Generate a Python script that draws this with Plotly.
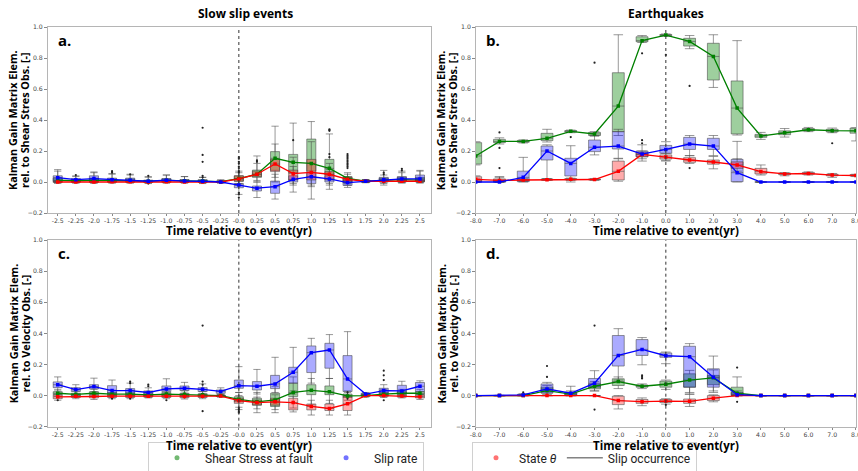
import plotly.graph_objects as go

W, H = 858, 471

# ---------------- categories / tick labels ----------------
SSE_T = [-2.5, -2.25, -2.0, -1.75, -1.5, -1.25, -1.0, -0.75, -0.5, -0.25, 0.0,
         0.25, 0.5, 0.75, 1.0, 1.25, 1.5, 1.75, 2.0, 2.25, 2.5]
SSE_TICKS = ["-2.5", "-2.25", "-2.0", "-1.75", "-1.5", "-1.25", "-1.0", "-0.75", "-0.5", "-0.25", "-0.0",
             "0.25", "0.5", "0.75", "1.0", "1.25", "1.5", "1.75", "2.0", "2.25", "2.5"]
EQ_T = [-8.0, -7.0, -6.0, -5.0, -4.0, -3.0, -2.0, -1.0, 0.0, 1.0, 2.0, 3.0, 4.0, 5.0, 6.0, 7.0, 8.0]
EQ_TICKS = ["-8.0", "-7.0", "-6.0", "-5.0", "-4.0", "-3.0", "-2.0", "-1.0", "0.0",
            "1.0", "2.0", "3.0", "4.0", "5.0", "6.0", "7.0", "8.0"]
Y_TICKS = [-0.2, 0.0, 0.2, 0.4, 0.6, 0.8, 1.0]
Y_TICKTEXT = ["\u22120.2", "0.0", "0.2", "0.4", "0.6", "0.8", "1.0"]

# ---------------- (a) slow slip events, gain w.r.t. shear-stress obs ----------------
A_SH_MED = [0.012, 0.008, 0.012, 0.010, 0.010, 0.005, 0.010, 0.008, 0.006, 0.002, 0.022, 0.050, 0.153, 0.127, 0.120, 0.088, 0.024, 0.005, 0.010, 0.015, 0.012]
A_SH_Q1 = [0.003, 0.002, 0.004, 0.003, 0.003, 0.000, 0.003, 0.002, 0.000, -0.002, 0.005, 0.030, 0.075, 0.060, 0.070, 0.045, -0.005, 0.000, 0.003, 0.005, 0.003]
A_SH_Q3 = [0.025, 0.015, 0.025, 0.020, 0.020, 0.012, 0.020, 0.015, 0.015, 0.006, 0.040, 0.077, 0.196, 0.178, 0.277, 0.146, 0.035, 0.010, 0.025, 0.030, 0.030]
A_SH_LO = [-0.005, -0.005, -0.005, -0.005, -0.005, -0.010, -0.005, -0.005, -0.010, -0.005, -0.020, 0.000, 0.000, -0.065, -0.110, -0.047, -0.020, -0.005, -0.010, -0.005, -0.005]
A_SH_HI = [0.070, 0.035, 0.060, 0.055, 0.050, 0.035, 0.045, 0.035, 0.030, 0.015, 0.060, 0.168, 0.360, 0.380, 0.390, 0.310, 0.060, 0.015, 0.045, 0.060, 0.070]

A_SR_MED = [0.028, 0.015, 0.022, 0.015, 0.012, 0.005, 0.012, 0.006, 0.005, 0.000, -0.020, -0.040, -0.030, 0.017, 0.034, 0.020, -0.004, 0.005, 0.015, 0.020, 0.020]
A_SR_Q1 = [0.005, 0.003, 0.005, 0.003, 0.002, 0.000, 0.003, 0.000, 0.000, -0.003, -0.037, -0.058, -0.073, 0.000, -0.010, 0.000, -0.022, 0.000, 0.003, 0.005, 0.005]
A_SR_Q3 = [0.040, 0.022, 0.040, 0.025, 0.025, 0.010, 0.022, 0.015, 0.012, 0.004, -0.009, -0.026, 0.006, 0.040, 0.060, 0.040, 0.010, 0.010, 0.030, 0.035, 0.045]
A_SR_LO = [-0.005, -0.005, -0.005, -0.005, -0.005, -0.005, -0.005, -0.005, -0.005, -0.008, -0.080, -0.100, -0.110, -0.020, -0.030, -0.020, -0.035, -0.003, -0.020, -0.005, -0.005]
A_SR_HI = [0.080, 0.040, 0.065, 0.050, 0.045, 0.030, 0.045, 0.035, 0.030, 0.010, 0.020, 0.000, 0.050, 0.100, 0.120, 0.080, 0.030, 0.015, 0.075, 0.070, 0.075]

A_TH_MED = [0.000, 0.000, 0.000, 0.001, 0.001, 0.000, 0.001, 0.000, 0.000, 0.000, 0.020, 0.050, 0.116, 0.054, 0.062, 0.050, 0.017, 0.005, 0.005, 0.005, 0.005]
A_TH_Q1 = [-0.003, -0.002, -0.003, -0.002, -0.002, -0.002, -0.002, -0.002, -0.002, -0.002, 0.005, 0.035, 0.067, 0.013, 0.013, 0.013, 0.005, 0.000, 0.000, 0.000, 0.000]
A_TH_Q3 = [0.004, 0.003, 0.004, 0.004, 0.004, 0.003, 0.004, 0.003, 0.003, 0.002, 0.040, 0.070, 0.146, 0.077, 0.146, 0.067, 0.030, 0.010, 0.012, 0.012, 0.012]
A_TH_LO = [-0.008, -0.006, -0.008, -0.006, -0.006, -0.006, -0.006, -0.006, -0.006, -0.004, -0.010, 0.010, 0.030, -0.010, -0.020, -0.010, -0.010, -0.003, -0.005, -0.005, -0.005]
A_TH_HI = [0.010, 0.008, 0.010, 0.010, 0.010, 0.008, 0.010, 0.008, 0.008, 0.005, 0.070, 0.120, 0.245, 0.160, 0.260, 0.120, 0.050, 0.015, 0.020, 0.020, 0.020]

A_OUT_X = [-2.25, -1.75, -1.75, -1.5, -1.25, -1.25, -0.5, -0.5, -0.5, -0.5, -0.5,
           0.0, 0.0, 0.0, 0.0, 0.0, 0.0, 0.0, 0.0, 0.0, 0.0, 0.0, 0.25, 0.25, 0.75,
           1.25, 1.25, 1.25, 1.25, 1.25, 1.5, 1.5, 1.5, 1.5, 1.5, 1.5, 1.5, 1.5, 1.5, 1.5,
           2.0, 2.0, 2.25, 2.25]
A_OUT_Y = [0.045, 0.070, 0.060, 0.050, 0.040, -0.010, 0.350, 0.175, 0.130, 0.040, 0.030,
           0.160, 0.150, 0.130, 0.120, 0.100, 0.090, 0.070, 0.060, -0.070, -0.080, -0.100, 0.140, 0.130, 0.270,
           0.340, 0.335, 0.330, 0.180, 0.160, 0.180, 0.170, 0.160, 0.150, 0.140, 0.130, 0.120, 0.110, 0.100, 0.090,
           0.060, 0.050, 0.085, 0.075]

# ---------------- (b) earthquakes, gain w.r.t. shear-stress obs ----------------
B_SH_MED = [0.168, 0.262, 0.262, 0.282, 0.327, 0.310, 0.490, 0.912, 0.948, 0.907, 0.810, 0.477, 0.297, 0.318, 0.337, 0.331, 0.330]
B_SH_Q1 = [0.116, 0.254, 0.256, 0.267, 0.322, 0.300, 0.325, 0.905, 0.944, 0.877, 0.658, 0.310, 0.288, 0.305, 0.330, 0.323, 0.315]
B_SH_Q3 = [0.254, 0.275, 0.268, 0.314, 0.332, 0.320, 0.705, 0.937, 0.952, 0.927, 0.895, 0.652, 0.307, 0.330, 0.345, 0.340, 0.348]
B_SH_LO = [0.110, 0.245, 0.252, 0.258, 0.318, 0.295, 0.300, 0.900, 0.940, 0.860, 0.610, 0.303, 0.275, 0.290, 0.325, 0.318, 0.265]
B_SH_HI = [0.260, 0.285, 0.272, 0.340, 0.335, 0.325, 0.950, 0.945, 0.955, 0.945, 0.950, 0.912, 0.320, 0.345, 0.352, 0.348, 0.350]

B_SR_MED = [0.000, 0.000, 0.030, 0.200, 0.120, 0.224, 0.232, 0.180, 0.210, 0.245, 0.232, 0.060, 0.000, 0.000, 0.000, 0.000, 0.000]
B_SR_Q1 = [-0.002, -0.002, 0.002, 0.142, 0.039, 0.196, 0.213, 0.163, 0.185, 0.210, 0.210, 0.002, -0.002, -0.002, -0.002, -0.002, -0.002]
B_SR_Q3 = [0.010, 0.012, 0.070, 0.232, 0.153, 0.271, 0.325, 0.200, 0.236, 0.288, 0.282, 0.146, 0.002, 0.002, 0.002, 0.002, 0.002]
B_SR_LO = [-0.003, -0.003, 0.000, 0.020, 0.000, 0.175, 0.153, 0.135, 0.140, 0.170, 0.170, 0.000, -0.003, -0.003, -0.003, -0.003, -0.003]
B_SR_HI = [0.020, 0.030, 0.159, 0.240, 0.234, 0.300, 0.340, 0.240, 0.260, 0.300, 0.300, 0.262, 0.003, 0.003, 0.003, 0.003, 0.003]

B_TH_MED = [0.017, 0.010, 0.013, 0.015, 0.018, 0.016, 0.069, 0.178, 0.161, 0.142, 0.129, 0.110, 0.067, 0.052, 0.055, 0.045, 0.042]
B_TH_Q1 = [0.003, 0.004, 0.008, 0.012, 0.014, 0.013, 0.013, 0.163, 0.148, 0.127, 0.115, 0.088, 0.052, 0.047, 0.050, 0.040, 0.038]
B_TH_Q3 = [0.034, 0.020, 0.018, 0.020, 0.022, 0.020, 0.135, 0.190, 0.175, 0.157, 0.142, 0.130, 0.088, 0.058, 0.062, 0.050, 0.048]
B_TH_LO = [0.000, 0.000, 0.005, 0.010, 0.010, 0.010, 0.005, 0.150, 0.135, 0.120, 0.085, 0.070, 0.045, 0.040, 0.045, 0.030, 0.035]
B_TH_HI = [0.040, 0.035, 0.020, 0.022, 0.025, 0.022, 0.150, 0.200, 0.185, 0.170, 0.165, 0.150, 0.110, 0.060, 0.065, 0.055, 0.050]

B_OUT_X = [-7.0, -7.0, -7.0, -4.0, -3.0, -1.0, -1.0, -1.0, 0.0, 1.0, 1.0, 7.0]
B_OUT_Y = [0.320, 0.220, 0.090, 0.290, 0.770, 0.830, 0.270, 0.250, 0.820, 0.620, 0.090, 0.250]

# ---------------- (c) slow slip events, gain w.r.t. velocity obs ----------------
C_SH_MED = [0.015, 0.008, 0.015, 0.010, 0.010, 0.005, 0.010, 0.008, 0.005, 0.000, -0.024, -0.040, -0.028, 0.020, 0.034, 0.024, -0.002, 0.000, 0.010, 0.015, 0.015]
C_SH_Q1 = [0.005, 0.000, 0.005, 0.002, 0.002, -0.002, 0.002, 0.000, -0.002, -0.004, -0.040, -0.062, -0.070, -0.006, 0.006, 0.006, -0.012, -0.004, 0.002, 0.005, 0.005]
C_SH_Q3 = [0.025, 0.015, 0.025, 0.020, 0.018, 0.012, 0.020, 0.015, 0.012, 0.004, -0.007, -0.017, 0.015, 0.080, 0.070, 0.062, 0.010, 0.005, 0.020, 0.025, 0.025]
C_SH_LO = [-0.005, -0.010, -0.005, -0.010, -0.010, -0.010, -0.010, -0.010, -0.010, -0.008, -0.090, -0.110, -0.110, -0.080, -0.060, -0.050, -0.030, -0.008, -0.010, -0.005, -0.005]
C_SH_HI = [0.040, 0.030, 0.040, 0.035, 0.035, 0.025, 0.035, 0.030, 0.025, 0.010, 0.020, 0.020, 0.060, 0.120, 0.110, 0.110, 0.030, 0.010, 0.040, 0.040, 0.040]

C_SR_MED = [0.070, 0.039, 0.058, 0.032, 0.032, 0.020, 0.043, 0.047, 0.040, 0.027, 0.064, 0.060, 0.075, 0.150, 0.276, 0.293, 0.107, 0.010, 0.032, 0.030, 0.060]
C_SR_Q1 = [0.051, 0.026, 0.043, 0.015, 0.015, 0.010, 0.026, 0.032, 0.026, 0.015, 0.047, 0.036, 0.045, 0.080, 0.148, 0.176, 0.026, 0.003, 0.015, 0.015, 0.026]
C_SR_Q3 = [0.088, 0.051, 0.070, 0.064, 0.045, 0.030, 0.062, 0.062, 0.051, 0.036, 0.100, 0.090, 0.130, 0.182, 0.319, 0.336, 0.257, 0.015, 0.047, 0.066, 0.084]
C_SR_LO = [0.030, 0.010, 0.025, 0.000, 0.000, 0.000, 0.010, 0.015, 0.010, 0.005, 0.020, 0.010, 0.020, 0.030, 0.080, 0.110, 0.000, 0.000, 0.000, 0.000, 0.010]
C_SR_HI = [0.120, 0.070, 0.112, 0.100, 0.080, 0.050, 0.108, 0.085, 0.075, 0.050, 0.186, 0.168, 0.246, 0.310, 0.368, 0.392, 0.411, 0.020, 0.070, 0.092, 0.095]

C_TH_MED = [-0.008, -0.005, -0.006, -0.004, -0.004, -0.004, -0.004, -0.006, -0.005, -0.003, -0.032, -0.045, -0.040, -0.045, -0.070, -0.083, -0.053, 0.000, 0.000, -0.003, -0.008]
C_TH_Q1 = [-0.020, -0.012, -0.015, -0.012, -0.012, -0.010, -0.012, -0.014, -0.012, -0.006, -0.050, -0.060, -0.062, -0.092, -0.092, -0.096, -0.096, -0.003, -0.005, -0.010, -0.015]
C_TH_Q3 = [0.004, 0.002, 0.003, 0.003, 0.003, 0.002, 0.003, 0.002, 0.002, 0.000, -0.017, -0.028, -0.017, -0.017, -0.054, -0.054, -0.006, 0.003, 0.004, 0.004, 0.003]
C_TH_LO = [-0.030, -0.020, -0.025, -0.020, -0.020, -0.015, -0.020, -0.022, -0.020, -0.010, -0.075, -0.085, -0.090, -0.105, -0.125, -0.125, -0.125, -0.008, -0.010, -0.015, -0.025]
C_TH_HI = [0.010, 0.008, 0.010, 0.008, 0.008, 0.006, 0.008, 0.008, 0.008, 0.004, 0.000, -0.010, 0.005, 0.010, -0.030, -0.030, 0.020, 0.005, 0.008, 0.008, 0.008]

C_OUT_X = [-2.5, -1.75, -1.5, -1.5, -1.5, -1.25, -1.25, -1.0, -0.5, -0.5, -0.5, -0.5,
           0.0, 0.0, 0.0, 0.0, 1.5, 1.5, 1.5, 2.0, 2.0, 2.0, 2.0]
C_OUT_Y = [-0.030, -0.020, 0.090, 0.080, -0.020, 0.070, 0.060, -0.030, 0.450, 0.090, 0.070, -0.100,
           -0.080, -0.090, -0.100, -0.110, 0.020, 0.000, -0.020, 0.160, 0.130, 0.100, -0.030]

# ---------------- (d) earthquakes, gain w.r.t. velocity obs ----------------
D_SH_MED = [0.000, 0.000, 0.000, 0.032, 0.010, 0.060, 0.090, 0.060, 0.073, 0.100, 0.114, 0.015, 0.000, 0.000, 0.000, 0.000, 0.000]
D_SH_Q1 = [0.000, 0.000, 0.000, 0.022, 0.003, 0.043, 0.065, 0.054, 0.054, 0.054, 0.070, 0.006, 0.000, 0.000, 0.000, 0.000, 0.000]
D_SH_Q3 = [0.000, 0.000, 0.002, 0.054, 0.020, 0.075, 0.108, 0.068, 0.093, 0.140, 0.130, 0.054, 0.000, 0.000, 0.000, 0.000, 0.000]
D_SH_LO = [0.000, 0.000, 0.000, 0.010, 0.000, 0.030, 0.045, 0.045, 0.040, 0.010, 0.030, 0.000, 0.000, 0.000, 0.000, 0.000, 0.000]
D_SH_HI = [0.000, 0.000, 0.005, 0.065, 0.030, 0.090, 0.120, 0.075, 0.100, 0.162, 0.165, 0.120, 0.000, 0.000, 0.000, 0.000, 0.000]

D_SR_MED = [0.000, 0.000, 0.004, 0.043, 0.015, 0.080, 0.258, 0.297, 0.256, 0.250, 0.118, 0.006, 0.000, 0.000, 0.000, 0.000, 0.000]
D_SR_Q1 = [0.000, 0.000, 0.000, 0.015, 0.005, 0.054, 0.190, 0.258, 0.246, 0.054, 0.054, 0.000, 0.000, 0.000, 0.000, 0.000, 0.000]
D_SR_Q3 = [0.000, 0.001, 0.008, 0.075, 0.022, 0.110, 0.386, 0.360, 0.274, 0.317, 0.172, 0.020, 0.000, 0.000, 0.000, 0.000, 0.000]
D_SR_LO = [0.000, 0.000, 0.000, 0.005, 0.000, 0.030, 0.100, 0.198, 0.205, 0.020, 0.020, 0.000, 0.000, 0.000, 0.000, 0.000, 0.000]
D_SR_HI = [0.000, 0.002, 0.012, 0.085, 0.060, 0.160, 0.430, 0.373, 0.280, 0.334, 0.254, 0.030, 0.000, 0.000, 0.000, 0.000, 0.000]

D_TH_MED = [0.000, 0.000, 0.000, 0.000, 0.000, 0.000, -0.032, -0.039, -0.035, -0.037, -0.017, 0.000, 0.000, 0.000, 0.000, 0.000, 0.000]
D_TH_Q1 = [0.000, 0.000, 0.000, 0.000, 0.000, 0.000, -0.058, -0.050, -0.045, -0.050, -0.032, 0.000, 0.000, 0.000, 0.000, 0.000, 0.000]
D_TH_Q3 = [0.000, 0.000, 0.000, 0.000, 0.000, 0.000, -0.004, -0.025, -0.025, -0.022, 0.000, 0.000, 0.000, 0.000, 0.000, 0.000, 0.000]
D_TH_LO = [0.000, 0.000, 0.000, 0.000, 0.000, 0.000, -0.086, -0.065, -0.055, -0.070, -0.040, 0.000, 0.000, 0.000, 0.000, 0.000, 0.000]
D_TH_HI = [0.000, 0.000, 0.000, 0.000, 0.000, 0.000, 0.000, -0.015, -0.020, 0.008, 0.005, 0.000, 0.000, 0.000, 0.000, 0.000, 0.000]

D_OUT_X = [-6.0, -5.0, -5.0, -3.0, -3.0, -1.0, -1.0, -1.0, 0.0, 0.0, 3.0, 3.0]
D_OUT_Y = [0.020, 0.190, 0.120, 0.450, -0.090, 0.130, 0.120, 0.110, 0.430, -0.060, 0.180, -0.040]

# ---------------- styling ----------------
SERIES_STYLE = {
    "shear": dict(fill="rgba(0,128,0,0.38)", line="#008000"),
    "slip": dict(fill="rgba(0,0,255,0.33)", line="#0000ff"),
    "state": dict(fill="rgba(255,0,0,0.33)", line="#ff0000"),
}
TEXT_FONT = "Open Sans, Lato, DejaVu Sans, sans-serif"
TICK_FONT = dict(family="DejaVu Sans, sans-serif", size=6.2, color="#444")
LEGEND_FONT = dict(family="Roboto, DejaVu Sans, sans-serif", size=12, color="#222")


def fx(px):
    return px / W


def fy(px):
    return 1 - px / H


# panel frames in pixels: (left, right, top, bottom)
COLS = [(47.5, 430.7), (475.7, 856.0)]
ROWS = [(27.0, 213.0), (240.0, 426.7)]
XTITLE_GAP = [17.0, 18.5]

fig = go.Figure()


def add_panel(idx, t, box_w, stats, out_x, out_y):
    xa = "x" if idx == 1 else f"x{idx}"
    ya = "y" if idx == 1 else f"y{idx}"
    # boxes
    for key in ("shear", "slip", "state"):
        q1, med, q3, lo, hi = stats[key]
        fig.add_trace(go.Box(
            x=t, q1=q1, median=med, q3=q3, lowerfence=lo, upperfence=hi,
            width=box_w, whiskerwidth=0.8, boxpoints=False,
            fillcolor=SERIES_STYLE[key]["fill"],
            line=dict(color="rgba(70,70,70,0.55)", width=1),
            xaxis=xa, yaxis=ya, showlegend=False, hoverinfo="skip",
        ))
    # outliers
    fig.add_trace(go.Scatter(
        x=out_x, y=out_y, mode="markers",
        marker=dict(size=2.2, color="#222"),
        xaxis=xa, yaxis=ya, showlegend=False, hoverinfo="skip",
    ))
    # median trajectories
    for key in ("shear", "state", "slip"):
        med = stats[key][1]
        fig.add_trace(go.Scatter(
            x=t, y=med, mode="lines+markers",
            line=dict(color=SERIES_STYLE[key]["line"], width=1.3),
            marker=dict(symbol="square", size=3.5, color=SERIES_STYLE[key]["line"]),
            xaxis=xa, yaxis=ya, showlegend=False, hoverinfo="skip",
        ))


add_panel(1, SSE_T, 0.125, {
    "shear": (A_SH_Q1, A_SH_MED, A_SH_Q3, A_SH_LO, A_SH_HI),
    "slip": (A_SR_Q1, A_SR_MED, A_SR_Q3, A_SR_LO, A_SR_HI),
    "state": (A_TH_Q1, A_TH_MED, A_TH_Q3, A_TH_LO, A_TH_HI),
}, A_OUT_X, A_OUT_Y)
add_panel(2, EQ_T, 0.5, {
    "shear": (B_SH_Q1, B_SH_MED, B_SH_Q3, B_SH_LO, B_SH_HI),
    "slip": (B_SR_Q1, B_SR_MED, B_SR_Q3, B_SR_LO, B_SR_HI),
    "state": (B_TH_Q1, B_TH_MED, B_TH_Q3, B_TH_LO, B_TH_HI),
}, B_OUT_X, B_OUT_Y)
add_panel(3, SSE_T, 0.125, {
    "shear": (C_SH_Q1, C_SH_MED, C_SH_Q3, C_SH_LO, C_SH_HI),
    "slip": (C_SR_Q1, C_SR_MED, C_SR_Q3, C_SR_LO, C_SR_HI),
    "state": (C_TH_Q1, C_TH_MED, C_TH_Q3, C_TH_LO, C_TH_HI),
}, C_OUT_X, C_OUT_Y)
add_panel(4, EQ_T, 0.5, {
    "shear": (D_SH_Q1, D_SH_MED, D_SH_Q3, D_SH_LO, D_SH_HI),
    "slip": (D_SR_Q1, D_SR_MED, D_SR_Q3, D_SR_LO, D_SR_HI),
    "state": (D_TH_Q1, D_TH_MED, D_TH_Q3, D_TH_LO, D_TH_HI),
}, D_OUT_X, D_OUT_Y)

# legend entries
fig.add_trace(go.Scatter(x=[None], y=[None], mode="markers", name="Shear Stress at fault",
                         marker=dict(size=5, color="rgba(0,128,0,0.55)"), legend="legend"))
fig.add_trace(go.Scatter(x=[None], y=[None], mode="markers", name="Slip rate",
                         marker=dict(size=5, color="rgba(0,0,255,0.55)"), legend="legend"))
fig.add_trace(go.Scatter(x=[None], y=[None], mode="markers", name="State <i>θ</i>",
                         marker=dict(size=5, color="rgba(255,0,0,0.55)"), legend="legend2"))
fig.add_trace(go.Scatter(x=[None], y=[None], mode="lines", name="Slip occurrence",
                         line=dict(color="#444", width=1), legend="legend2"))

layout = dict(
    width=W, height=H,
    margin=dict(l=0, r=0, t=0, b=0, autoexpand=False),
    paper_bgcolor="white", plot_bgcolor="white",
    boxmode="overlay",
    font=dict(family=TEXT_FONT, color="#000"),
    legend=dict(x=fx(148), y=-0.005, xanchor="left", yanchor="bottom", orientation="h",
                bgcolor="white", bordercolor="#d0d0d0", borderwidth=1, font=LEGEND_FONT,
                itemwidth=46, tracegroupgap=0),
    legend2=dict(x=fx(472), y=-0.005, xanchor="left", yanchor="bottom", orientation="h",
                 bgcolor="white", bordercolor="#d0d0d0", borderwidth=1, font=LEGEND_FONT,
                 itemwidth=36, tracegroupgap=0),
)

shapes = []
annotations = []
for idx in range(1, 5):
    col = (idx - 1) % 2
    row = (idx - 1) // 2
    (xl, xr), (yt, yb) = COLS[col], ROWS[row]
    xa_key = "xaxis" if idx == 1 else f"xaxis{idx}"
    ya_key = "yaxis" if idx == 1 else f"yaxis{idx}"
    anchor_y = "y" if idx == 1 else f"y{idx}"
    anchor_x = "x" if idx == 1 else f"x{idx}"
    if col == 0:
        tv, tt, rng = SSE_T, SSE_TICKS, [-2.641, 2.648]
    else:
        tv, tt, rng = EQ_T, EQ_TICKS, [-8.0, 8.002]
    layout[xa_key] = dict(
        domain=[fx(xl), fx(xr)], anchor=anchor_y, range=rng,
        tickmode="array", tickvals=tv, ticktext=tt, tickfont=TICK_FONT,
        ticks="outside", ticklen=2, tickcolor="#888", ticklabeloverflow="allow",
        showline=True, mirror=True, linecolor="#b5b5b5", linewidth=1,
        showgrid=False, zeroline=False,
    )
    layout[ya_key] = dict(
        domain=[fy(yb), fy(yt)], anchor=anchor_x, range=[-0.2, 1.0],
        tickmode="array", tickvals=Y_TICKS, ticktext=Y_TICKTEXT, tickfont=TICK_FONT,
        ticks="outside", ticklen=2.5, tickcolor="#888",
        showline=True, mirror=True, linecolor="#b5b5b5", linewidth=1,
        showgrid=False, zeroline=False,
    )
    # event time marker
    shapes.append(dict(type="line", xref=anchor_x, yref=f"{anchor_y} domain",
                       x0=0, x1=0, y0=0, y1=1, line=dict(color="#333", width=1, dash="dot")))
    # panel letter
    annotations.append(dict(text="<b>" + "abcd"[idx - 1] + ".</b>", xref="paper", yref="paper",
                            x=fx(xl + 8), y=fy(yt + 13), xanchor="left", yanchor="middle",
                            showarrow=False, font=dict(size=15, family=TEXT_FONT)))
    # x-axis title
    annotations.append(dict(text="<b>Time relative to event(yr)</b>", xref="paper", yref="paper",
                            x=fx((xl + xr) / 2), y=fy(yb + XTITLE_GAP[row]),
                            xanchor="center", yanchor="middle",
                            showarrow=False, font=dict(size=11.5, family=TEXT_FONT)))
    # y-axis title (two lines)
    obs = "Shear Stres Obs. [-]" if row == 0 else "Velocity Obs. [-]"
    for dx, line_txt in ((-34.5, "Kalman Gain Matrix Elem."), (-22.5, "rel. to " + obs)):
        annotations.append(dict(text="<b>" + line_txt + "</b>",
                                xref="paper", yref="paper", textangle=-90,
                                x=fx(xl + dx), y=fy((yt + yb) / 2), xanchor="center", yanchor="middle",
                                showarrow=False, font=dict(size=10.8, family=TEXT_FONT)))

annotations.append(dict(text="<b>Slow slip events</b>", xref="paper", yref="paper",
                        x=fx(245), y=fy(14), xanchor="center", yanchor="middle",
                        showarrow=False, font=dict(size=12, family=TEXT_FONT)))
annotations.append(dict(text="<b>Earthquakes</b>", xref="paper", yref="paper",
                        x=fx(666), y=fy(14), xanchor="center", yanchor="middle",
                        showarrow=False, font=dict(size=12, family=TEXT_FONT)))

layout["shapes"] = shapes
layout["annotations"] = annotations
fig.update_layout(**layout)

fig.write_html("out.html")
